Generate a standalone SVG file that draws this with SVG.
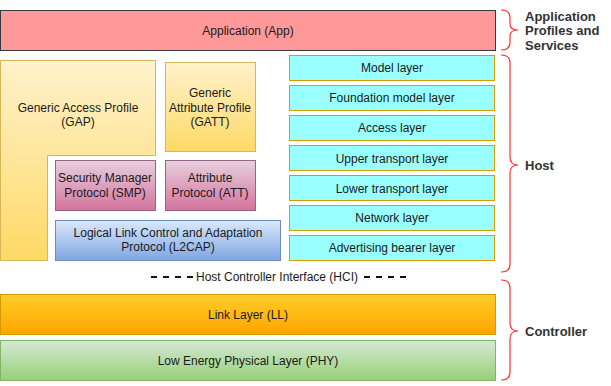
<svg xmlns="http://www.w3.org/2000/svg" width="611" height="386" viewBox="0 0 611 386">
<defs>
<linearGradient id="gY" x1="0" y1="0" x2="0" y2="1"><stop offset="0" stop-color="#fff2cc"/><stop offset="1" stop-color="#ffd966"/></linearGradient>
<linearGradient id="gP" x1="0" y1="0" x2="0" y2="1"><stop offset="0" stop-color="#e6d0de"/><stop offset="1" stop-color="#d5739d"/></linearGradient>
<linearGradient id="gB" x1="0" y1="0" x2="0" y2="1"><stop offset="0" stop-color="#dae8fc"/><stop offset="1" stop-color="#7ea6e0"/></linearGradient>
<linearGradient id="gO" x1="0" y1="0" x2="0" y2="1"><stop offset="0" stop-color="#ffcd28"/><stop offset="1" stop-color="#ffa500"/></linearGradient>
<linearGradient id="gG" x1="0" y1="0" x2="0" y2="1"><stop offset="0" stop-color="#d5e8d4"/><stop offset="1" stop-color="#97d077"/></linearGradient>
</defs>
<style>
text{font-family:"Liberation Sans",Arial,sans-serif;font-size:12px;fill:#1a1a1a;text-anchor:middle;dominant-baseline:central}
.lbl{text-anchor:start;font-weight:bold;font-size:13px;fill:#333}
.yel{fill:url(#gY);stroke:#d6b656}
.pur{fill:url(#gP);stroke:#996185}
.stk{fill:#99ffff;stroke:#d79b00}
.brace{fill:none;stroke:#ff3333;stroke-width:1.2}
.dash{stroke:#111;stroke-width:2;stroke-dasharray:6 6}
</style>
<g id="app"><rect x="0.5" y="10.5" width="495" height="40" fill="#ff9999" stroke="#36393d"/><text x="248" y="30.5">Application (App)</text></g>
<g id="gap"><path class="yel" d="M0.5,60.5 H155.5 V155.5 H47.5 V260.5 H0.5 Z"/><text x="78" y="108">Generic Access Profile</text><text x="78" y="122">(GAP)</text></g>
<g id="gatt"><rect class="yel" x="165.5" y="62.5" width="90" height="89"/><text x="210" y="93">Generic</text><text x="210" y="107.5">Attribute Profile</text><text x="210" y="122">(GATT)</text></g>
<g id="smp"><rect class="pur" x="55.5" y="160.5" width="100" height="50"/><text x="105" y="178">Security Manager</text><text x="105" y="192.5">Protocol (SMP)</text></g>
<g id="att"><rect class="pur" x="165.5" y="160.5" width="90" height="50"/><text x="210" y="178">Attribute</text><text x="210" y="192.5">Protocol (ATT)</text></g>
<g id="l2cap"><rect x="55.5" y="220.5" width="225" height="40" fill="url(#gB)" stroke="#6c8ebf"/><text x="168" y="233">Logical Link Control and Adaptation</text><text x="168" y="247">Protocol (L2CAP)</text></g>
<g id="model"><rect class="stk" x="289.5" y="55.5" width="205" height="25"/><text x="392" y="68">Model layer</text></g>
<g id="foundation"><rect class="stk" x="289.5" y="85.5" width="205" height="25"/><text x="392" y="98">Foundation model layer</text></g>
<g id="access"><rect class="stk" x="289.5" y="115.5" width="205" height="25"/><text x="392" y="128">Access layer</text></g>
<g id="upper"><rect class="stk" x="289.5" y="145.5" width="205" height="25"/><text x="392" y="158.5">Upper transport layer</text></g>
<g id="lower"><rect class="stk" x="289.5" y="175.5" width="205" height="25"/><text x="392" y="188.5">Lower transport layer</text></g>
<g id="network"><rect class="stk" x="289.5" y="205.5" width="205" height="25"/><text x="392" y="218">Network layer</text></g>
<g id="adv"><rect class="stk" x="289.5" y="235.5" width="205" height="25"/><text x="392" y="248">Advertising bearer layer</text></g>
<g id="hci"><line class="dash" x1="151" y1="277" x2="193" y2="277"/><text x="277" y="277">Host Controller Interface (HCI)</text><line class="dash" x1="364" y1="277" x2="406" y2="277"/></g>
<g id="ll"><rect x="0.5" y="294.5" width="495" height="40" fill="url(#gO)" stroke="#d79b00"/><text x="248" y="314.5">Link Layer (LL)</text></g>
<g id="phy"><rect x="0.5" y="340.5" width="495" height="40" fill="url(#gG)" stroke="#82b366"/><text x="248" y="360.5">Low Energy Physical Layer (PHY)</text></g>
<g id="braces">
<path class="brace" d="M501,10 Q510,10 510,18 V24 Q510,30 518,30 Q510,30 510,36 V42 Q510,50 501,50"/>
<path class="brace" d="M501,55 Q510,55 510,63 V157 Q510,165 518,165 Q510,165 510,173 V264 Q510,272 501,272"/>
<path class="brace" d="M501,280 Q510,280 510,288 V323 Q510,331 518,331 Q510,331 510,339 V372 Q510,380 501,380"/>
</g>
<g id="labels">
<text class="lbl" x="525" y="16">Application</text><text class="lbl" x="525" y="30.5">Profiles and</text><text class="lbl" x="525" y="45">Services</text>
<text class="lbl" x="525" y="165.5">Host</text>
<text class="lbl" x="525" y="331">Controller</text>
</g>
</svg>
